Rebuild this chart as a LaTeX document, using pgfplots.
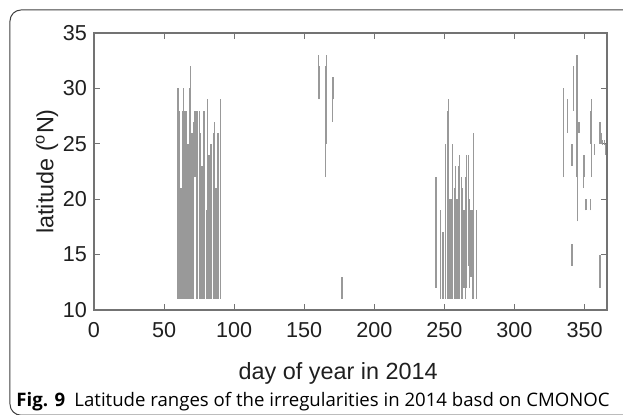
\documentclass[border=0pt]{standalone}
\usepackage{fontspec}
\setmainfont{Liberation Sans}
\newfontfamily\capfont{Open Sans}
\usepackage{pgfplots}
\pgfplotsset{compat=1.18}
\definecolor{barc}{gray}{0.6}
\definecolor{axc}{gray}{0.45}
\definecolor{txt}{gray}{0.12}
\begin{document}
\begin{tikzpicture}
\useasboundingbox (-47pt,-52.5pt) rectangle (264.5pt,155pt);
\begin{axis}[
  at={(0,0)}, anchor=south west,
  scale only axis, width=256.5pt, height=138.5pt,
  xmin=0, xmax=366, ymin=10, ymax=35,
  xtick={0,50,...,350}, ytick={10,15,...,35},
  tick align=inside, major tick length=3pt,
  axis line style={axc, line width=0.6pt},
  tick style={axc, line width=0.5pt},
  ticklabel style={font=\fontsize{10.8}{12}\selectfont, text=txt},
  xticklabel style={yshift=-2.5pt},
  /pgf/number format/assume math mode=true,
  xlabel={day of year in 2014},
  ylabel={latitude (\textsuperscript{o}N)},
  label style={font=\fontsize{11.7}{13}\selectfont, text=txt},
  x label style={at={(axis description cs:0.476,0)}, anchor=base, yshift=-35pt},
  y label style={at={(axis description cs:-0.0916,0.5)}, anchor=center},
  unbounded coords=jump,
]
\addplot[barc, line width=0.62pt] coordinates {
(60,11) (60,30) (60,nan)
(61,11) (61,28) (61,nan)
(62,11) (62,21) (62,nan)
(63,11) (63,28) (63,nan)
(64,11) (64,30) (64,nan)
(65,11) (65,28) (65,nan)
(66,11) (66,28) (66,nan)
(67,11) (67,25) (67,nan)
(68,11) (68,30) (68,nan)
(69,11) (69,32) (69,nan)
(70,11) (70,26) (70,nan)
(71,11) (71,27) (71,nan)
(72,22) (72,28) (72,nan)
(73,11) (73,28) (73,nan)
(74,11) (74,28) (74,nan)
(75,11) (75,28) (75,nan)
(76,11) (76,26) (76,nan)
(77,11) (77,23) (77,nan)
(78,11) (78,28) (78,nan)
(79,11) (79,28) (79,nan)
(80,11) (80,19) (80,nan)
(81,11) (81,29) (81,nan)
(82,11) (82,24) (82,nan)
(83,11) (83,25) (83,nan)
(84,11) (84,25) (84,nan)
(85,11) (85,26) (85,nan)
(86,11) (86,27) (86,nan)
(87,11) (87,21) (87,nan)
(88,11) (88,26) (88,nan)
(89,11) (89,26) (89,nan)
(90,11) (90,29) (90,nan)
(160,29) (160,33) (160,nan)
(161,29) (161,32) (161,nan)
(165,22) (165,32) (165,nan)
(166,25) (166,33) (166,nan)
(170,27) (170,31) (170,nan)
(171,29) (171,31) (171,nan)
(177,11) (177,13) (177,nan)
(244,12) (244,22) (244,nan)
(247,11) (247,19) (247,nan)
(249,11) (249,17) (249,nan)
(251,11) (251,25) (251,nan)
(252,11) (252,28) (252,nan)
(253,11) (253,29) (253,nan)
(254,11) (254,20) (254,nan)
(255,11) (255,20) (255,nan)
(256,11) (256,25) (256,nan)
(257,11) (257,21) (257,nan)
(258,11) (258,23) (258,nan)
(259,11) (259,20) (259,nan)
(260,11) (260,23) (260,nan)
(261,11) (261,24) (261,nan)
(262,11) (262,22) (262,nan)
(263,11) (263,21) (263,nan)
(264,12) (264,19) (264,nan)
(265,11) (265,22) (265,nan)
(266,12) (266,24) (266,nan)
(267,14) (267,24) (267,nan)
(268,12) (268,20) (268,nan)
(269,13) (269,19) (269,nan)
(270,11) (270,19) (270,nan)
(271,11) (271,26) (271,nan)
(273,11) (273,19) (273,nan)
(335,22) (335,30) (335,nan)
(338,26) (338,29) (338,nan)
(341,23) (341,25) (341,nan)
(341,14) (341,16) (341,nan)
(342,28) (342,32) (342,nan)
(344,22) (344,33) (344,nan)
(345,18) (345,33) (345,nan)
(346,26) (346,27) (346,nan)
(349,21) (349,24) (349,nan)
(350,22) (350,24) (350,nan)
(351,19) (351,20) (351,nan)
(354,19) (354,20) (354,nan)
(354,25) (354,28) (354,nan)
(355,22) (355,29) (355,nan)
(357,24) (357,25) (357,nan)
(361,25) (361,27) (361,nan)
(361,12) (361,15) (361,nan)
(362,25) (362,26) (362,nan)
(363,24.9) (363,25.3) (363,nan)
(364,24.9) (364,25.3) (364,nan)
(365,24) (365,25) (365,nan)
};
\end{axis}
\draw[black!75, line width=0.5pt, rounded corners=5.5pt] (275pt,-52.6pt) -- (-42pt,-52.6pt) -- (-42pt,150pt) -- (275pt,150pt);
\node[anchor=base west, inner sep=0pt, font=\capfont\fontsize{9.3}{11}\selectfont] at (-39pt,-48.5pt) {\textbf{Fig. 9}\enspace Latitude ranges of the irregularities in 2014 basd on CMONOC};
\end{tikzpicture}
\end{document}
